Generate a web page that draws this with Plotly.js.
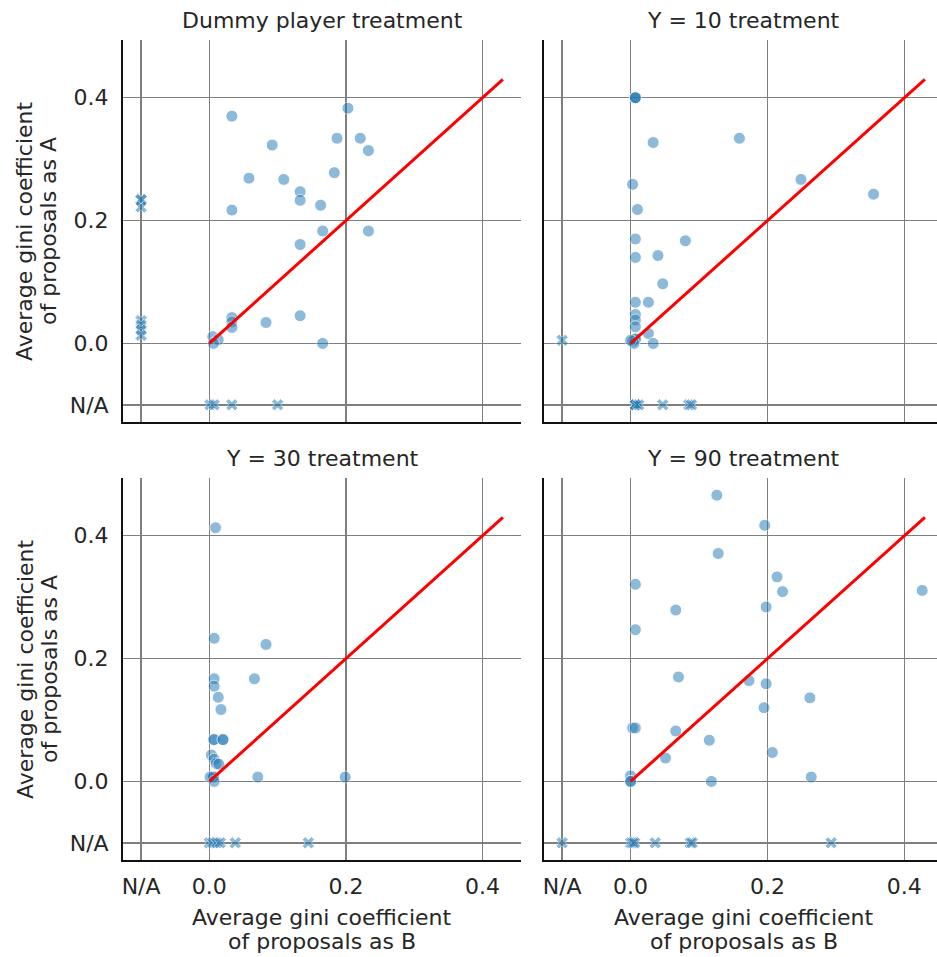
<!DOCTYPE html>
<html>
<head>
<meta charset="utf-8">
<script src="https://cdn.plot.ly/plotly-3.0.1.min.js"></script>
<style>html,body{margin:0;padding:0;background:#fff;}#chart{width:937px;height:957px;}</style>
</head>
<body>
<div id="chart"></div>
<script>
// ---- data: (B, A) pairs per treatment; null = N/A ----
const panelTitles = ["Dummy player treatment", "Y = 10 treatment", "Y = 30 treatment", "Y = 90 treatment"];
const xLabelLines = ["Average gini coefficient", "of proposals as B"];
const yLabelLines = ["Average gini coefficient", "of proposals as A"];
const tickVals = [-0.1, 0, 0.2, 0.4];
const tickText = ["N/A", "0.0", "0.2", "0.4"];
const NA_POS = -0.1;
const diagonal = [0, 0.43];

const dummyB = [0.033,0.203,0.092,0.187,0.221,0.233,0.058,0.109,0.183,0.133,0.133,0.163,0.033,0.166,0.233,0.133,0.133,0.083,0.033,0.033,0.033,0.005,0.013,0.006,0.166,
  null,null,null,null,null,null,null, 0.001,0.007,0.033,0.100];
const dummyA = [0.370,0.383,0.323,0.334,0.334,0.314,0.269,0.267,0.278,0.247,0.233,0.225,0.217,0.183,0.183,0.161,0.045,0.034,0.042,0.035,0.026,0.011,0.006,0.0,0.0,
  0.234,0.234,0.222,0.037,0.030,0.022,0.013, null,null,null,null];

const y10B = [0.007,0.007,0.007,0.033,0.159,0.249,0.355,0.003,0.010,0.007,0.080,0.007,0.040,0.047,0.007,0.026,0.007,0.007,0.007,0.026,0.033,0.007,0.007,0.003,0.005,0.0,
  null, 0.007,0.007,0.007,0.012,0.047,0.085,0.089];
const y10A = [0.400,0.400,0.400,0.327,0.334,0.267,0.243,0.259,0.218,0.170,0.167,0.140,0.143,0.097,0.067,0.067,0.047,0.038,0.027,0.016,0.0,0.007,0.007,0.003,0.0,0.005,
  0.005, null,null,null,null,null,null,null];

const y30B = [0.009,0.007,0.083,0.007,0.007,0.066,0.013,0.017,0.006,0.007,0.020,0.020,0.003,0.007,0.010,0.014,0.006,0.006,0.001,0.007,0.071,0.199,
  0.0,0.005,0.011,0.016,0.038,0.145];
const y30A = [0.413,0.233,0.223,0.167,0.155,0.167,0.137,0.117,0.068,0.068,0.068,0.068,0.043,0.036,0.029,0.028,0.007,0.007,0.007,0.0,0.007,0.007,
  null,null,null,null,null,null];

const y90B = [0.126,0.196,0.128,0.214,0.222,0.426,0.007,0.066,0.198,0.007,0.070,0.173,0.198,0.262,0.195,0.003,0.007,0.066,0.115,0.207,0.051,0.264,0.118,0.0,0.0,0.0,
  null,0.0,0.003,0.006,0.036,0.087,0.090,0.293];
const y90A = [0.466,0.417,0.371,0.333,0.309,0.311,0.321,0.279,0.284,0.247,0.170,0.164,0.159,0.136,0.120,0.087,0.087,0.082,0.067,0.047,0.038,0.007,0.0,0.009,0.0,0.0,
  null,null,null,null,null,null,null,null];

// ---- build traces ----
const panels = [
  {B: dummyB, A: dummyA, xa: 'x',  ya: 'y'},
  {B: y10B,   A: y10A,   xa: 'x2', ya: 'y2'},
  {B: y30B,   A: y30A,   xa: 'x3', ya: 'y3'},
  {B: y90B,   A: y90A,   xa: 'x4', ya: 'y4'}
];
const blue = '#1f77b4';
const traces = [];
panels.forEach(p => {
  const cx = [], cy = [], nx = [], ny = [];
  p.B.forEach((b, i) => {
    const a = p.A[i];
    if (b === null || a === null) {
      nx.push(b === null ? NA_POS : b);
      ny.push(a === null ? NA_POS : a);
    } else { cx.push(b); cy.push(a); }
  });
  traces.push({x: cx, y: cy, xaxis: p.xa, yaxis: p.ya, type: 'scatter', mode: 'markers', showlegend: false, hoverinfo: 'skip',
    marker: {symbol: 'circle', size: 12, color: blue, opacity: 0.5, line: {color: '#ffffff', width: 1}}});
  traces.push({x: nx, y: ny, xaxis: p.xa, yaxis: p.ya, type: 'scatter', mode: 'markers', showlegend: false, hoverinfo: 'skip',
    marker: {symbol: 'x', size: 11, color: blue, opacity: 0.5, line: {color: '#ffffff', width: 1}}});
  traces.push({x: diagonal, y: diagonal, xaxis: p.xa, yaxis: p.ya, type: 'scatter', mode: 'lines', showlegend: false, hoverinfo: 'skip',
    line: {color: '#ff0000', width: 3}});
});

const FS = 22;
const font = {family: 'DejaVu Sans', size: FS, color: '#262626'};
const baseAxis = {
  showgrid: true, gridcolor: '#7f7f7f', gridwidth: 1.5, zeroline: false,
  showline: true, linecolor: '#111111', linewidth: 2,
  ticks: '', tickmode: 'array', tickvals: tickVals, ticktext: tickText, tickfont: font,
  fixedrange: true
};
const xRangeL = [-0.1265, 0.4565], xRangeR = [-0.1265, 0.4477], yRange = [-0.128, 0.494];
const dL = [0, 0.48894], dR = [0.51720, 1], dT = [0.53415, 1], dB = [0, 0.46585];
// centers of full (uncropped) panels in paper coords
const cxL = 0.2445, cxR = 0.7623;
const cyT = (dT[0] + dT[1]) / 2, cyB = (dB[0] + dB[1]) / 2;

const annotations = [];
const titlePos = [[cxL, dT[1]], [cxR, dT[1]], [cxL, dB[1]], [cxR, dB[1]]];
panelTitles.forEach((t, i) => {
  annotations.push({text: t, xref: 'paper', yref: 'paper', x: titlePos[i][0], y: titlePos[i][1], yshift: 20,
    xanchor: 'center', yanchor: 'middle', showarrow: false, font: font});
});
[cxL, cxR].forEach(cx => {
  xLabelLines.forEach((t, j) => {
    annotations.push({text: t, xref: 'paper', yref: 'paper', x: cx, y: 0, yshift: -57 - 24 * j,
      xanchor: 'center', yanchor: 'middle', showarrow: false, font: font});
  });
});
[cyT, cyB].forEach(cy => {
  yLabelLines.forEach((t, j) => {
    annotations.push({text: t, xref: 'paper', yref: 'paper', x: 0, y: cy, xshift: -98 + 24 * j,
      xanchor: 'center', yanchor: 'middle', textangle: -90, showarrow: false, font: font});
  });
});

const layout = {
  width: 937, height: 957,
  margin: {l: 123, r: 0, t: 40, b: 97},
  paper_bgcolor: '#ffffff', plot_bgcolor: '#ffffff',
  font: font,
  xaxis:  Object.assign({}, baseAxis, {domain: dL, range: xRangeL, anchor: 'y',  showticklabels: false}),
  xaxis2: Object.assign({}, baseAxis, {domain: dR, range: xRangeR, anchor: 'y2', showticklabels: false}),
  xaxis3: Object.assign({}, baseAxis, {domain: dL, range: xRangeL, anchor: 'y3', ticklabelstandoff: 6}),
  xaxis4: Object.assign({}, baseAxis, {domain: dR, range: xRangeR, anchor: 'y4', ticklabelstandoff: 6}),
  yaxis:  Object.assign({}, baseAxis, {domain: dT, range: yRange, anchor: 'x',  ticklabelstandoff: 8}),
  yaxis2: Object.assign({}, baseAxis, {domain: dT, range: yRange, anchor: 'x2', showticklabels: false}),
  yaxis3: Object.assign({}, baseAxis, {domain: dB, range: yRange, anchor: 'x3', ticklabelstandoff: 8}),
  yaxis4: Object.assign({}, baseAxis, {domain: dB, range: yRange, anchor: 'x4', showticklabels: false}),
  annotations: annotations
};

Plotly.newPlot('chart', traces, layout, {displayModeBar: false, staticPlot: true});
</script>
</body>
</html>
